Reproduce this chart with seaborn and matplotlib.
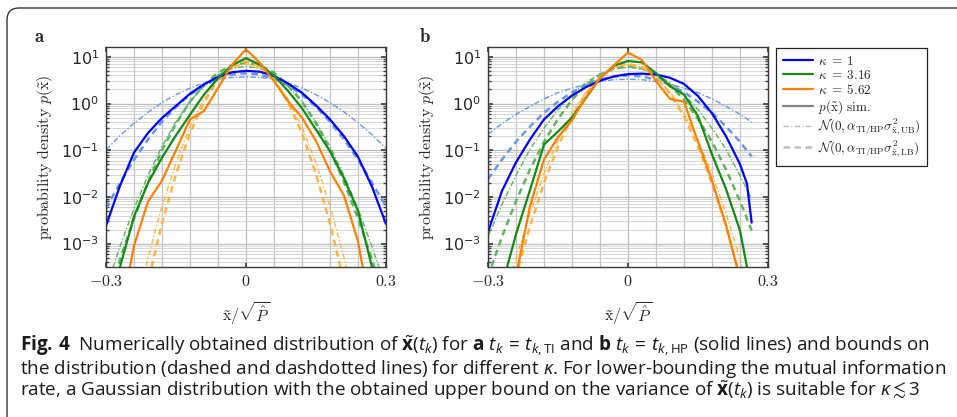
import numpy as np
import matplotlib
matplotlib.use("Agg")
import matplotlib.pyplot as plt
import seaborn as sns
from matplotlib import ticker
from matplotlib.lines import Line2D
from matplotlib.patches import FancyBboxPatch
from matplotlib.transforms import IdentityTransform

sns.set_theme(style="white")
plt.rcParams["font.family"] = ["DejaVu Sans"]
plt.rcParams["mathtext.fontset"] = "cm"
plt.rcParams["mathtext.fallback"] = "stix"
cap_font = "Open Sans"
plt.rcParams["mathtext.rm"] = cap_font
plt.rcParams["mathtext.it"] = cap_font + ":italic"
plt.rcParams["mathtext.bf"] = cap_font + ":bold"
plt.rcParams["mathtext.sf"] = cap_font

# --- data: log10 of the density ---
# panel a (t_k = t_k,TI)
x_a = [-0.30, -0.27, -0.24, -0.21, -0.18, -0.15, -0.12, -0.09, -0.06, -0.03, 0.0,
       0.03, 0.06, 0.09, 0.12, 0.15, 0.18, 0.21, 0.24, 0.27, 0.30]
a_k1_sim = [-2.62, -1.76, -1.05, -0.63, -0.31, -0.05, 0.21, 0.41, 0.57, 0.67, 0.70,
            0.68, 0.59, 0.43, 0.23, -0.04, -0.34, -0.70, -1.14, -1.78, -2.58]
a_k1_ub = [-0.99, -0.69, -0.42, -0.19, 0.02, 0.19, 0.33, 0.44, 0.52, 0.56, 0.57,
           0.56, 0.52, 0.44, 0.33, 0.19, 0.02, -0.18, -0.41, -0.67, -0.96]
a_k1_lb = [-2.25, -1.70, -1.20, -0.77, -0.39, -0.07, 0.19, 0.39, 0.53, 0.62, 0.65,
           0.62, 0.53, 0.39, 0.19, -0.07, -0.39, -0.77, -1.20, -1.70, -2.20]
a_k3_sim = [-4.6, -3.5, -2.42, -1.70, -1.16, -0.68, -0.24, 0.19, 0.54, 0.82, 0.97,
            0.83, 0.60, 0.27, -0.10, -0.56, -1.02, -1.60, -2.30, -3.5, -4.6]
a_k3_ub = [-3.97, -3.06, -2.25, -1.54, -0.92, -0.39, 0.04, 0.37, 0.61, 0.75, 0.80,
           0.75, 0.61, 0.37, 0.04, -0.39, -0.92, -1.54, -2.25, -3.06, -3.97]
a_k3_lb = [-4.33, -3.34, -2.46, -1.68, -1.00, -0.43, 0.04, 0.40, 0.66, 0.82, 0.87,
           0.82, 0.66, 0.40, 0.04, -0.43, -1.00, -1.68, -2.46, -3.34, -4.33]
a_k5_sim = [-6.0, -4.6, -3.05, -2.10, -1.65, -1.00, -0.34, -0.16, 0.33, 0.83, 1.16,
            0.87, 0.48, 0.05, -0.30, -0.80, -1.45, -1.97, -2.95, -4.6, -6.0]
a_k5_ub = [-7.6, -6.0, -4.56, -3.30, -2.20, -1.27, -0.50, 0.09, 0.51, 0.77, 0.85,
           0.77, 0.51, 0.09, -0.50, -1.27, -2.20, -3.30, -4.56, -6.0, -7.6]
a_k5_lb = [-8.7, -6.9, -5.26, -3.82, -2.57, -1.51, -0.64, 0.03, 0.51, 0.80, 0.90,
           0.80, 0.51, 0.03, -0.64, -1.51, -2.57, -3.82, -5.26, -6.9, -8.7]

# panel b (t_k = t_k,HP), curves stop at about 0.265
x_b = [-0.30, -0.27, -0.24, -0.21, -0.18, -0.15, -0.12, -0.09, -0.06, -0.03, 0.0,
       0.03, 0.06, 0.09, 0.12, 0.15, 0.18, 0.21, 0.24, 0.255, 0.265]
b_k1_sim = [-2.75, -1.87, -1.26, -0.77, -0.34, -0.06, 0.17, 0.35, 0.49, 0.58, 0.63,
            0.64, 0.62, 0.55, 0.42, 0.16, -0.21, -0.70, -1.30, -1.72, -2.55]
b_k1_ub = [-0.66, -0.43, -0.23, -0.06, 0.10, 0.23, 0.33, 0.41, 0.47, 0.51, 0.52,
           0.51, 0.47, 0.41, 0.33, 0.23, 0.10, -0.06, -0.23, -0.33, -0.40]
b_k1_lb = [-1.62, -1.20, -0.82, -0.49, -0.20, 0.04, 0.24, 0.40, 0.51, 0.58, 0.60,
           0.58, 0.51, 0.40, 0.24, 0.04, -0.20, -0.49, -0.82, -1.01, -1.13]
b_k3_sim = [-5.0, -3.9, -2.80, -1.85, -0.88, -0.60, -0.30, 0.12, 0.54, 0.81, 0.91,
            0.88, 0.65, 0.37, 0.19, -0.27, -1.09, -1.83, -2.72, -3.5, -4.0]
b_k3_ub = [-2.85, -2.16, -1.54, -0.98, -0.53, -0.13, 0.20, 0.45, 0.63, 0.74, 0.78,
           0.74, 0.63, 0.45, 0.20, -0.13, -0.53, -0.98, -1.54, -1.84, -2.05]
b_k3_lb = [-3.71, -2.85, -2.09, -1.41, -0.82, -0.33, 0.08, 0.39, 0.62, 0.75, 0.80,
           0.75, 0.62, 0.39, 0.08, -0.33, -0.82, -1.41, -2.09, -2.46, -2.72]
b_k5_sim = [-6.5, -5.0, -3.70, -2.20, -1.20, -0.72, -0.36, 0.14, 0.54, 0.82, 1.09,
            0.93, 0.48, 0.10, 0.04, -0.82, -1.65, -2.60, -3.75, -4.3, -4.7]
b_k5_ub = [-5.65, -4.42, -3.32, -2.35, -1.50, -0.79, -0.21, 0.25, 0.57, 0.77, 0.83,
           0.77, 0.57, 0.25, -0.21, -0.79, -1.50, -2.35, -3.32, -3.85, -4.22]
b_k5_lb = [-6.24, -4.89, -3.69, -2.63, -1.70, -0.92, -0.28, 0.21, 0.57, 0.78, 0.85,
           0.78, 0.57, 0.21, -0.28, -0.92, -1.70, -2.63, -3.69, -4.27, -4.68]

kappa_labels = [r"$\kappa \;=\; 1$", r"$\kappa \;=\; 3.16$", r"$\kappa \;=\; 5.62$"]

# --- styles ---
dark = ["#0000ff", "#138a13", "#ff8000"]
light = ["#6497ee", "#5fb35f", "#ffb445"]
dashdot = (0, (4, 1.5, 1, 1.5))
dashed = (0, (2.6, 1.8))

W, H = 957, 417
fig = plt.figure(figsize=(W / 100, H / 100), dpi=100)
fig.patch.set_facecolor("white")


def px_axes(left, top, right, bottom):
    return fig.add_axes([left / W, 1 - bottom / H, (right - left) / W, (bottom - top) / H])


def draw_panel(ax, x, sims, ubs, lbs):
    for i in range(3):
        sns.lineplot(x=x, y=10.0 ** np.array(ubs[i]), ax=ax, color=light[i],
                     linestyle=dashdot, linewidth=1.0, sort=False)
        sns.lineplot(x=x, y=10.0 ** np.array(lbs[i]), ax=ax, color=light[i],
                     linestyle=dashed, linewidth=1.8, sort=False)
    for i in range(3):
        sns.lineplot(x=x, y=10.0 ** np.array(sims[i]), ax=ax, color=dark[i],
                     linewidth=1.6, sort=False)
    ax.set_yscale("log")
    ax.set_xlim(-0.3, 0.3)
    ax.set_ylim(10 ** -3.5, 10 ** 1.21)
    ax.set_xticks([-0.3, 0.0, 0.3])
    ax.set_xticklabels([r"$-0.3$", r"$0$", r"$0.3$"])
    ax.xaxis.set_minor_locator(ticker.MultipleLocator(0.06))
    ax.yaxis.set_major_locator(ticker.LogLocator(base=10, numticks=12))
    ax.yaxis.set_minor_locator(ticker.LogLocator(base=10, subs=np.arange(2, 10), numticks=40))
    ax.yaxis.set_minor_formatter(ticker.NullFormatter())
    ax.grid(which="major", color="#bdbdbd", linewidth=0.9)
    ax.grid(which="minor", axis="y", color="#d0d0d0", linewidth=0.6)
    ax.grid(which="minor", axis="x", color="#c4c4c4", linewidth=0.9)
    ax.set_axisbelow(True)
    ax.tick_params(which="both", direction="in", top=True, right=True,
                   bottom=True, left=True, color="#404040", labelsize=11.5)
    ax.tick_params(which="major", length=3.5, pad=5)
    ax.tick_params(which="minor", axis="y", length=2)
    ax.tick_params(which="minor", axis="x", length=0)
    for s in ax.spines.values():
        s.set_color("#3a3a3a")
        s.set_linewidth(1.0)
    ax.set_ylabel(r"$\mathrm{probability\ density}\ p(\tilde{\mathrm{x}})$", fontsize=11.5, labelpad=4)
    ax.set_xlabel(r"$\tilde{\mathrm{x}}/\sqrt{\hat{P}}$", fontsize=11.5, labelpad=8)


ax_a = px_axes(106, 47, 386, 267)
draw_panel(ax_a, x_a, [a_k1_sim, a_k3_sim, a_k5_sim],
           [a_k1_ub, a_k3_ub, a_k5_ub], [a_k1_lb, a_k3_lb, a_k5_lb])
ax_b = px_axes(488, 47, 768, 267)
draw_panel(ax_b, x_b, [b_k1_sim, b_k3_sim, b_k5_sim],
           [b_k1_ub, b_k3_ub, b_k5_ub], [b_k1_lb, b_k3_lb, b_k5_lb])

fig.text(40 / W, 1 - 37 / H, r"$\mathbf{a}$", fontsize=13.5, ha="center", va="center")
fig.text(425 / W, 1 - 37 / H, r"$\mathbf{b}$", fontsize=13.5, ha="center", va="center")

# --- legend ---
handles = [Line2D([], [], color=c, lw=1.6) for c in dark]
handles += [Line2D([], [], color="#808080", lw=1.6),
            Line2D([], [], color="#bdbdbd", lw=1.0, linestyle=dashdot),
            Line2D([], [], color="#bdbdbd", lw=1.8, linestyle=dashed)]
labels = kappa_labels + [r"$p(\tilde{\mathrm{x}})\ \mathrm{sim.}$",
                         r"$\mathcal{N}(0, \alpha_{\mathrm{TI/HP}}\sigma^2_{\tilde{\mathrm{x}},\mathrm{UB}})$",
                         r"$\mathcal{N}(0, \alpha_{\mathrm{TI/HP}}\sigma^2_{\tilde{\mathrm{x}},\mathrm{LB}})$"]
leg = fig.legend(handles, labels, loc="upper left", bbox_to_anchor=(776 / W, 1 - 48 / H),
                 bbox_transform=fig.transFigure, fontsize=9.5, frameon=True, fancybox=False,
                 framealpha=1, edgecolor="#222222", borderpad=0.5, labelspacing=0.08,
                 handlelength=2.3, handletextpad=0.35, borderaxespad=0)
leg.get_frame().set_linewidth(0.9)

# --- caption ---
cap_lines = [
    r"$\mathbf{Fig.\,4}$  Numerically obtained distribution of $\tilde{\mathbf{x}}(t_k)$ for "
    r"$\mathbf{a}\ t_k\, =\, t_{k,\mathrm{TI}}$ and $\mathbf{b}\ t_k\, =\, t_{k,\mathrm{HP}}$ (solid lines) and bounds on",
    r"the distribution (dashed and dashdotted lines) for different $\kappa$. For lower-bounding the mutual information",
    r"rate, a Gaussian distribution with the obtained upper bound on the variance of $\tilde{\mathbf{x}}(t_k)$ "
    r"is suitable for $\kappa \lesssim 3$",
]
cap_texts = []
for i, line in enumerate(cap_lines):
    t = fig.text(20 / W, 1 - (351 + 22.7 * i) / H, line, fontsize=12, family=cap_font,
                 math_fontfamily="custom", color="#1a1a1a", ha="left", va="baseline")
    cap_texts.append(t)

# scale the caption so that its first line spans the same width as in the reference
fig.canvas.draw()
w0 = cap_texts[0].get_window_extent(fig.canvas.get_renderer()).width
for t in cap_texts:
    t.set_fontsize(12 * 910 / w0)

box = FancyBboxPatch((7, -30), 980, H - 8 + 30, boxstyle="round,pad=0,rounding_size=12",
                     transform=IdentityTransform(), facecolor="none", edgecolor="#333333",
                     linewidth=1.0, figure=fig)
fig.patches.append(box)

fig.savefig("out.png", dpi=100)
